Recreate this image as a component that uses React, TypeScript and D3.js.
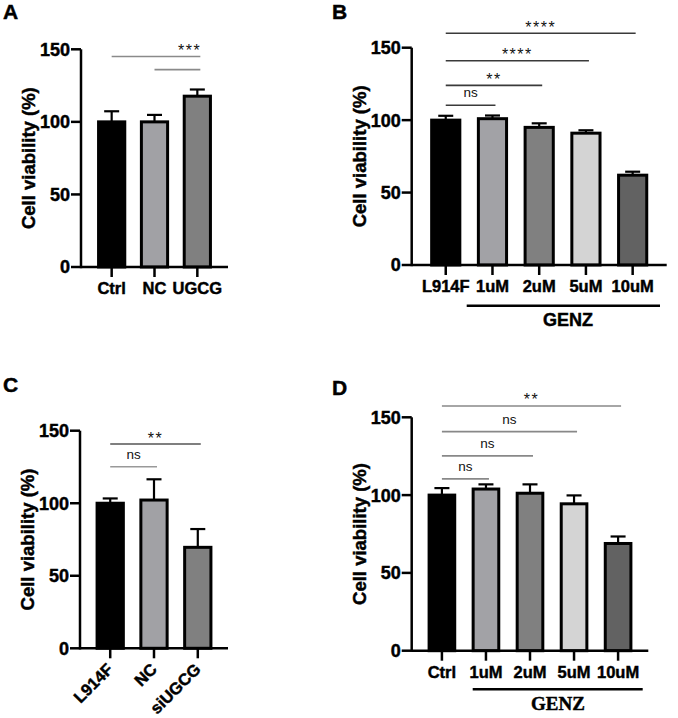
import { scaleBand, scaleLinear } from 'd3';

// Four bar panels (cell viability) rendered as plain SVG via JSX; d3 only for scales.

const yTicks = [0, 50, 100, 150];

// A
const catsA = ['Ctrl', 'NC', 'UGCG'];
const valsA = [100, 100, 117.7];
const errA = [7.3, 4.8, 4.6];
const sigA = [
  { from: 0, to: 2, y: 145, label: '***', at: 0.88 },
  { from: 1, to: 2, y: 136, label: '' },
];

// B
const catsB = ['L914F', '1uM', '2uM', '5uM', '10uM'];
const valsB = [100, 101, 95, 91, 62];
const errB = [3, 2.2, 2.8, 2, 2.4];
const sigB = [
  { from: 0, to: 1, y: 110.3, label: 'ns' },
  { from: 0, to: 2, y: 124, label: '**' },
  { from: 0, to: 3, y: 141, label: '****' },
  { from: 0, to: 4, y: 160, label: '****' },
];

// C
const catsC = ['L914F', 'NC', 'siUGCG'];
const valsC = [100, 102.2, 69.6];
const errC = [3.3, 14.3, 12.6];
const sigC = [
  { from: 0, to: 1, y: 125.2, label: 'ns' },
  { from: 0, to: 2, y: 140.8, label: '**' },
];

// D
const catsD = ['Ctrl', '1uM', '2uM', '5uM', '10uM'];
const valsD = [100, 103.9, 101.2, 94.4, 68.9];
const errD = [4.5, 3, 5.7, 5.4, 4.5];
const sigD = [
  { from: 0, to: 1, y: 110.4, label: 'ns' },
  { from: 0, to: 2, y: 125.2, label: 'ns' },
  { from: 0, to: 3, y: 140.8, label: 'ns' },
  { from: 0, to: 4, y: 157.3, label: '**' },
];

const groupLabel = 'GENZ';

const SANS = '"Liberation Sans", Arial, Helvetica, sans-serif';
const SERIF = '"Liberation Serif", "Times New Roman", serif';

const FILL_3 = ['#000000', '#a1a1a5', '#808080'];
const FILL_5 = ['#000000', '#a2a2a6', '#808080', '#d4d4d4', '#626262'];

// bold text is a touch heavier in the reference
const heavy = { stroke: '#000', strokeWidth: 0.45 } as const;

interface Sig {
  from: number;
  to: number;
  y: number;
  label: string;
  at?: number;
}

interface Layout {
  letter: string;
  letterX: number;
  letterY: number;
  axisX: number;
  axisEnd: number;
  y0: number;
  y150: number;
  pIn: number;
  pOut: number;
  sigColor: string;
  sigColors?: string[];
  rotate?: boolean;
  group?: { font: string; size: number; lineY: number; x0: number; x1: number; textY: number; textX: number };
}

function Panel({
  cats,
  vals,
  errs,
  fills,
  sigs,
  L,
}: {
  cats: string[];
  vals: number[];
  errs: number[];
  fills: string[];
  sigs: Sig[];
  L: Layout;
}) {
  const x = scaleBand<string>().domain(cats).range([L.axisX, L.axisEnd]).paddingInner(L.pIn).paddingOuter(L.pOut);
  const y = scaleLinear().domain([0, 150]).range([L.y0, L.y150]);
  const bw = x.bandwidth();
  const cx = (i: number) => (x(cats[i]) ?? 0) + bw / 2;

  return (
    <g>
      <text x={L.letterX} y={L.letterY} {...heavy} style={{ fontFamily: SANS, fontWeight: 700, fontSize: 21 }}>
        {L.letter}
      </text>

      {/* bars + error bars */}
      {vals.map((v, i) => (
        <g key={i}>
          <line x1={cx(i)} x2={cx(i)} y1={y(v)} y2={y(v + errs[i])} stroke="#000" strokeWidth={2.2} />
          <line x1={cx(i) - 7.5} x2={cx(i) + 7.5} y1={y(v + errs[i])} y2={y(v + errs[i])} stroke="#000" strokeWidth={2.2} />
          <rect x={x(cats[i])} y={y(v)} width={bw} height={y(0) - y(v)} fill={fills[i]} stroke="#000" strokeWidth={3} />
        </g>
      ))}

      {/* y axis */}
      <line x1={L.axisX} x2={L.axisX} y1={y(0) + 1.2} y2={y(150)} stroke="#000" strokeWidth={2.5} />
      {yTicks.map((t) => (
        <g key={t}>
          <line x1={L.axisX - 10} x2={L.axisX} y1={y(t)} y2={y(t)} stroke="#000" strokeWidth={2.5} />
          <text
            x={L.axisX - 11}
            y={y(t)}
            dy="0.36em"
            textAnchor="end"
            {...heavy}
            style={{ fontFamily: SANS, fontWeight: 700, fontSize: 18 }}
          >
            {t}
          </text>
        </g>
      ))}
      <text
        transform={`translate(${L.axisX - 52.5},${(L.y0 + L.y150) / 2}) rotate(-90)`}
        textAnchor="middle"
        dy="0.35em"
        {...heavy}
        style={{ fontFamily: SANS, fontWeight: 700, fontSize: 18.5 }}
      >
        Cell viability (%)
      </text>

      {/* x axis */}
      <line x1={L.axisX} x2={L.axisEnd} y1={y(0)} y2={y(0)} stroke="#000" strokeWidth={2.5} />
      {cats.map((c, i) => (
        <g key={c}>
          <line x1={cx(i)} x2={cx(i)} y1={y(0)} y2={y(0) + 10} stroke="#000" strokeWidth={2.5} />
          {L.rotate ? (
            <text
              transform={`translate(${cx(i) + 4},${y(0) + 22}) rotate(-45)`}
              textAnchor="end"
              {...heavy}
              style={{ fontFamily: SANS, fontWeight: 700, fontSize: 16.5 }}
            >
              {c}
            </text>
          ) : (
            <text
              x={cx(i)}
              y={y(0) + 27}
              textAnchor="middle"
              {...heavy}
              style={{ fontFamily: SANS, fontWeight: 700, fontSize: 16.5 }}
            >
              {c}
            </text>
          )}
        </g>
      ))}

      {L.group && (
        <g>
          <line x1={L.group.x0} x2={L.group.x1} y1={L.group.lineY} y2={L.group.lineY} stroke="#000" strokeWidth={2.5} />
          <text
            x={L.group.textX}
            y={L.group.textY}
            textAnchor="middle"
            {...heavy}
            style={{ fontFamily: L.group.font, fontWeight: 700, fontSize: L.group.size }}
          >
            {groupLabel}
          </text>
        </g>
      )}

      {/* significance brackets */}
      {sigs.map((s, k) => {
        const x1 = cx(s.from);
        const x2 = cx(s.to) + 3;
        const ly = y(s.y);
        const lx = x1 + (x2 - x1) * (s.at ?? 0.5);
        const stars = s.label.startsWith('*');
        return (
          <g key={k}>
            <line x1={x1} x2={x2} y1={ly} y2={ly} stroke={L.sigColors?.[k] ?? L.sigColor} strokeWidth={1.6} />
            {s.label && (
              <text
                x={lx}
                y={stars ? ly - 0.5 : ly - 8}
                textAnchor="middle"
                style={{
                  fontFamily: SANS,
                  fontSize: stars ? 16 : 13.5,
                  letterSpacing: stars ? 1.5 : 0,
                  fill: '#111',
                }}
              >
                {s.label}
              </text>
            )}
          </g>
        );
      })}
    </g>
  );
}

const layoutA: Layout = {
  letter: 'A', letterX: 3, letterY: 19, axisX: 81, axisEnd: 228, y0: 267, y150: 49.3,
  pIn: 0.388, pOut: 0.41, sigColor: '#8a8a8a',
};
const layoutB: Layout = {
  letter: 'B', letterX: 332, letterY: 19, axisX: 411.7, axisEnd: 666.7, y0: 265, y150: 47.7,
  pIn: 0.397, pOut: 0.427, sigColor: '#3a3a3a',
  group: { font: SANS, size: 18, lineY: 305.7, x0: 466.7, x1: 660, textY: 326, textX: 568 },
};
const layoutC: Layout = {
  letter: 'C', letterX: 3, letterY: 392, axisX: 80, axisEnd: 228, y0: 648.3, y150: 430.7,
  pIn: 0.4, pOut: 0.39, sigColor: '#555', sigColors: ['#999', '#555'], rotate: true,
};
const layoutD: Layout = {
  letter: 'D', letterX: 332, letterY: 395, axisX: 411.7, axisEnd: 648.3, y0: 650.7, y150: 417.3,
  pIn: 0.418, pOut: 0.395, sigColor: '#888',
  group: { font: SERIF, size: 19, lineY: 689.3, x0: 472.7, x1: 642.7, textY: 710, textX: 558 },
};

export default function App() {
  return (
    <svg
      width={678}
      height={718}
      viewBox="0 0 678 718"
      style={{ position: 'absolute', left: 0, top: 0, background: '#fff' }}
    >
      <Panel cats={catsA} vals={valsA} errs={errA} fills={FILL_3} sigs={sigA} L={layoutA} />
      <Panel cats={catsB} vals={valsB} errs={errB} fills={FILL_5} sigs={sigB} L={layoutB} />
      <Panel cats={catsC} vals={valsC} errs={errC} fills={FILL_3} sigs={sigC} L={layoutC} />
      <Panel cats={catsD} vals={valsD} errs={errD} fills={FILL_5} sigs={sigD} L={layoutD} />
    </svg>
  );
}
